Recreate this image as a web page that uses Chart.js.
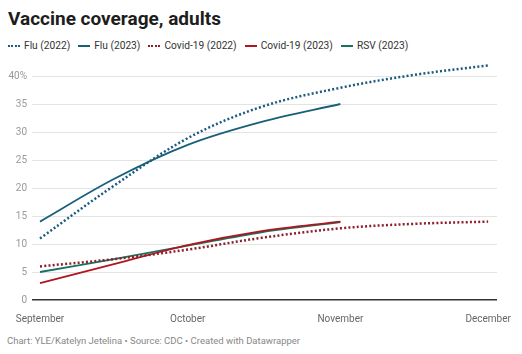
<!DOCTYPE html>
<html>
<head>
<meta charset="utf-8">
<script src="https://cdn.jsdelivr.net/npm/chart.js@4"></script>
<style>
  body { margin: 0; width: 522px; height: 354px; background: #fff; font-family: Roboto, sans-serif; position: relative; overflow: hidden; }
  .title { position: absolute; left: 8px; top: 9px; font-size: 19px; font-weight: 700; line-height: 20px; color: #1d1d1d; }
  .legend { position: absolute; left: 8px; top: 39px; display: flex; align-items: center; font-size: 10.2px; color: #333; line-height: 14px; }
  .legend .item { display: flex; align-items: center; margin-right: 8px; }
  .legend .swatch { width: 12px; height: 0; margin-right: 4px; }
  .footer { position: absolute; left: 7px; top: 335px; font-size: 9.5px; color: #888; }
  #wrap { position: absolute; left: 0; top: 60px; width: 522px; height: 270px; }
</style>
</head>
<body>
<div class="title">Vaccine coverage, adults</div>
<div class="legend" id="legend"></div>
<div id="wrap"><canvas id="chart"></canvas></div>
<div class="footer">Chart: YLE/Katelyn Jetelina • Source: CDC • Created with Datawrapper</div>
<script>
// days since September 1
const days2022 = [0, 15, 30, 45, 61, 76, 91];
const days2023 = [0, 15, 30, 45, 61];

const flu2022 = [11, 20.4, 28.9, 34.5, 37.9, 40.2, 41.9];
const flu2023 = [14, 21.6, 27.7, 31.8, 35];
const covid2022 = [6, 7.3, 9, 11.1, 12.8, 13.6, 14];
const covid2023 = [3, 6.4, 9.8, 12.3, 14];
const rsv2023 = [5, 7.3, 9.7, 12.1, 13.9];

const monthTicks = [0, 30, 61, 91];
const monthLabels = ['September', 'October', 'November', 'December'];
const yTicks = [0, 5, 10, 15, 20, 25, 30, 35, 40];

const series = [
  { label: 'Flu (2022)', x: days2022, y: flu2022, color: '#1c5b7e', dotted: true },
  { label: 'Flu (2023)', x: days2023, y: flu2023, color: '#17607a', dotted: false },
  { label: 'Covid-19 (2022)', x: days2022, y: covid2022, color: '#8e1f2c', dotted: true },
  { label: 'Covid-19 (2023)', x: days2023, y: covid2023, color: '#b0161f', dotted: false },
  { label: 'RSV (2023)', x: days2023, y: rsv2023, color: '#15735f', dotted: false }
];

// legend as html
const legend = document.getElementById('legend');
series.forEach(s => {
  const item = document.createElement('div');
  item.className = 'item';
  const sw = document.createElement('span');
  sw.className = 'swatch';
  sw.style.borderTop = (s.dotted ? '2px dotted ' : '2px solid ') + s.color;
  item.appendChild(sw);
  item.appendChild(document.createTextNode(s.label));
  legend.appendChild(item);
});

const datasets = series.map(s => ({
  label: s.label,
  data: s.x.map((d, i) => ({ x: d, y: s.y[i] })),
  borderColor: s.color,
  borderWidth: s.dotted ? 2.5 : 1.8,
  borderDash: s.dotted ? [2, 2.2] : [],
  pointRadius: 0,
  tension: 0.35,
  clip: false,
  fill: false
}));

new Chart(document.getElementById('chart'), {
  type: 'line',
  data: { datasets },
  options: {
    responsive: true,
    maintainAspectRatio: false,
    animation: false,
    layout: { padding: { top: 16, right: 25, left: 0, bottom: 0 } },
    plugins: { legend: { display: false }, tooltip: { enabled: false } },
    scales: {
      x: {
        type: 'linear',
        min: 0,
        max: 92.8,
        grid: { display: false },
        border: { display: false },
        afterBuildTicks: scale => { scale.ticks = monthTicks.map(v => ({ value: v })); },
        afterFit: scale => { scale.height = 30; },
        ticks: {
          autoSkip: false,
          maxRotation: 0,
          padding: 5,
          color: '#666',
          font: { family: 'Roboto', size: 10 },
          callback: v => monthLabels[monthTicks.indexOf(v)]
        }
      },
      y: {
        min: 0,
        max: 40,
        border: { display: false },
        afterBuildTicks: scale => { scale.ticks = yTicks.map(v => ({ value: v })); },
        afterFit: scale => { scale.width = 40; },
        grid: {
          tickLength: 8,
          color: ctx => ctx.tick && ctx.tick.value === 0 ? '#333' : '#e3e3e3',
          lineWidth: ctx => ctx.tick && ctx.tick.value === 0 ? 1.5 : 1
        },
        ticks: {
          padding: 5,
          color: '#999',
          font: { family: 'Roboto', size: 10 },
          callback: v => v === 40 ? v + '%' : v
        }
      }
    }
  }
});
</script>
</body>
</html>
